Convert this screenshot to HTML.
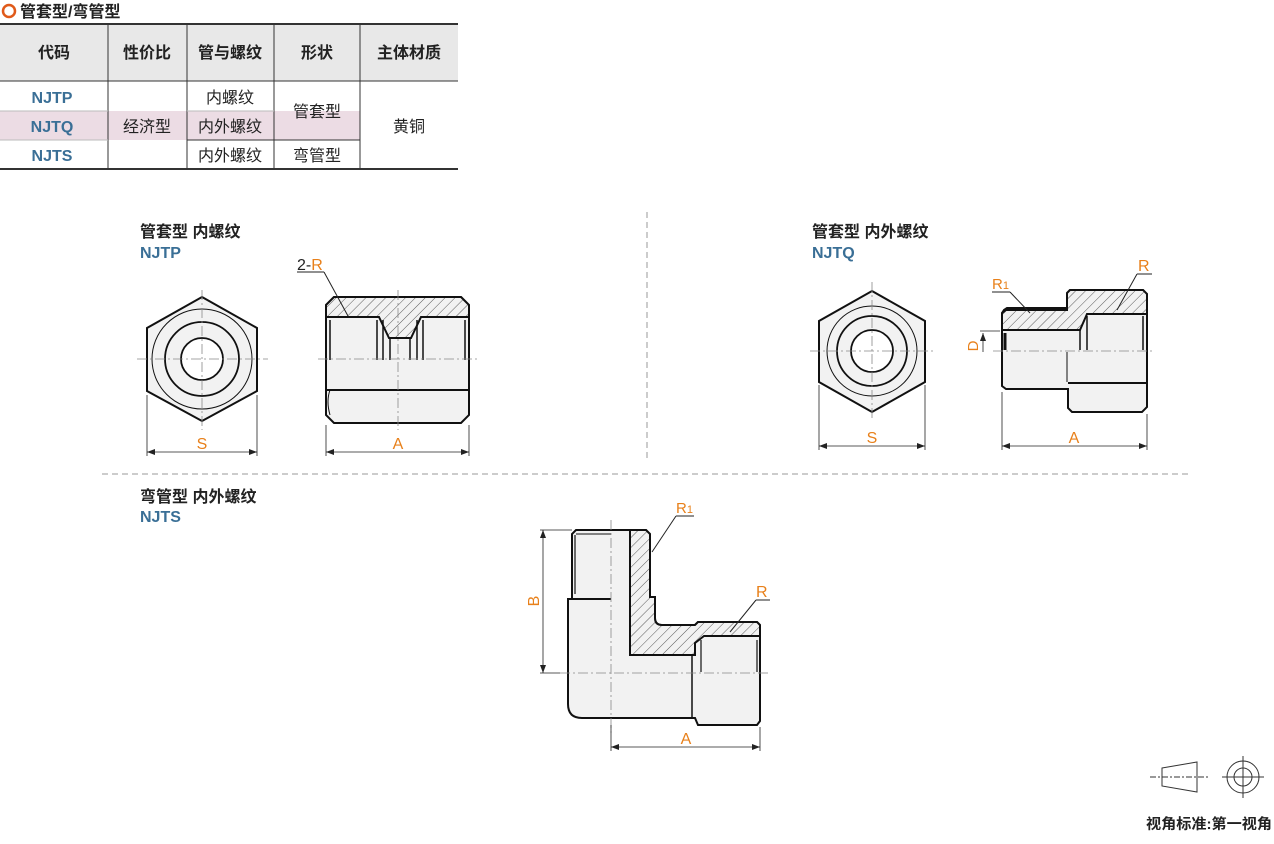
<!DOCTYPE html>
<html><head><meta charset="utf-8"><style>
body{margin:0;background:#fff;width:1274px;height:844px;overflow:hidden;position:relative;font-family:"Liberation Sans","Noto Sans CJK SC",sans-serif}
</style></head><body>
<svg width="1274" height="844" viewBox="0 0 1274 844" xmlns="http://www.w3.org/2000/svg" style="position:absolute;left:0;top:0">
<defs>
<pattern id="h" patternUnits="userSpaceOnUse" width="7" height="7" patternTransform="rotate(45)"><rect width="7" height="7" fill="#f2f2f2"/><line x1="0" y1="0" x2="0" y2="7" stroke="#333" stroke-width="0.8"/></pattern>
<marker id="ar" markerWidth="8" markerHeight="6" refX="8" refY="3" orient="auto-start-reverse" markerUnits="userSpaceOnUse"><path d="M0,0 L8,3 L0,6 Z" fill="#222"/></marker>
</defs>
<g font-family="Liberation Sans, Noto Sans CJK SC, sans-serif">
<circle cx="9" cy="11" r="6" fill="none" stroke="#e05a1a" stroke-width="2.5"/>
<text x="20" y="17" font-size="16" font-weight="bold" fill="#222">管套型/弯管型</text>
<rect x="0" y="24" width="458" height="57" fill="#e8e8e8"/>
<rect x="0" y="111" width="360" height="29" fill="#ecdce4"/>
<line x1="0" y1="24" x2="458" y2="24" stroke="#333" stroke-width="2"/>
<line x1="0" y1="81" x2="458" y2="81" stroke="#333" stroke-width="1"/>
<line x1="0" y1="169" x2="458" y2="169" stroke="#333" stroke-width="2"/>
<g stroke="#333" stroke-width="1">
<line x1="108" y1="24" x2="108" y2="169"/><line x1="187" y1="24" x2="187" y2="169"/>
<line x1="274" y1="24" x2="274" y2="169"/><line x1="360" y1="24" x2="360" y2="169"/>
<line x1="0" y1="111" x2="108" y2="111" stroke="#bbb"/><line x1="0" y1="140" x2="108" y2="140" stroke="#bbb"/>
<line x1="187" y1="111" x2="274" y2="111" stroke="#bbb"/><line x1="187" y1="140" x2="360" y2="140"/>
</g>
<g font-size="16" fill="#222" text-anchor="middle" font-weight="bold">
<text x="54" y="58">代码</text><text x="147" y="58">性价比</text><text x="230" y="58">管与螺纹</text><text x="317" y="58">形状</text><text x="409" y="58">主体材质</text>
</g>
<g font-size="16" fill="#3a6f96" text-anchor="middle" font-weight="bold">
<text x="52" y="103">NJTP</text><text x="52" y="132">NJTQ</text><text x="52" y="161">NJTS</text>
</g>
<g font-size="16" fill="#222" text-anchor="middle">
<text x="147" y="132">经济型</text><text x="230" y="103">内螺纹</text><text x="230" y="132">内外螺纹</text><text x="230" y="161">内外螺纹</text>
<text x="317" y="117">管套型</text><text x="317" y="161">弯管型</text><text x="409" y="132">黄铜</text>
</g>
<text x="140" y="237" font-size="16" font-weight="bold" fill="#222">管套型 内螺纹</text>
<text x="140" y="258" font-size="16" font-weight="bold" fill="#3a6f96">NJTP</text>
<text x="812" y="237" font-size="16" font-weight="bold" fill="#222">管套型 内外螺纹</text>
<text x="812" y="258" font-size="16" font-weight="bold" fill="#3a6f96">NJTQ</text>
<text x="140" y="502" font-size="16" font-weight="bold" fill="#222">弯管型 内外螺纹</text>
<text x="140" y="522" font-size="16" font-weight="bold" fill="#3a6f96">NJTS</text>
<line x1="647" y1="212" x2="647" y2="462" stroke="#999" stroke-dasharray="6,4"/>
<line x1="102" y1="474" x2="1190" y2="474" stroke="#999" stroke-dasharray="6,4"/>
<g stroke="#111" fill="#f2f2f2">
<polygon points="202,297 257,328 257,391 202,421 147,391 147,328" stroke-width="2"/>
<circle cx="202" cy="359" r="50" fill="none" stroke-width="1"/>
<circle cx="202" cy="359" r="37" stroke-width="1.8"/>
<circle cx="202" cy="359" r="21" fill="#fff" stroke-width="1.8"/>
</g>
<g stroke="#888" stroke-width="0.8" stroke-dasharray="10,3,2,3"><line x1="137" y1="359" x2="268" y2="359"/><line x1="202" y1="290" x2="202" y2="430"/></g>
<g stroke="#111" stroke-width="2">
<path d="M334,297 H461 L469,305 V415 L461,423 H334 L326,415 V305 Z" fill="#f2f2f2"/>
<path d="M326,305 L334,297 H461 L469,305 V317 H421 L411,338 H389 L379,317 H326 Z" fill="url(#h)"/>
<line x1="326" y1="390" x2="469" y2="390"/>
<path d="M330,390 Q326,401 330,415" fill="none" stroke-width="1"/>
</g>
<g stroke="#111" stroke-width="1.5"><line x1="330" y1="320" x2="330" y2="360"/><line x1="465" y1="320" x2="465" y2="360"/><line x1="377" y1="320" x2="377" y2="360"/><line x1="383" y1="320" x2="383" y2="360"/><line x1="417" y1="320" x2="417" y2="360"/><line x1="423" y1="320" x2="423" y2="360"/><line x1="390" y1="338" x2="390" y2="360"/><line x1="410" y1="338" x2="410" y2="360"/></g>
<line x1="318" y1="359" x2="478" y2="359" stroke="#888" stroke-width="0.8" stroke-dasharray="10,3,2,3"/>
<line x1="398" y1="290" x2="398" y2="430" stroke="#888" stroke-width="0.8" stroke-dasharray="10,3,2,3"/>
<line x1="297" y1="272" x2="324" y2="272" stroke="#222"/><line x1="324" y1="272" x2="348" y2="316" stroke="#222"/>
<text x="297" y="270" font-size="16" fill="#222">2-<tspan fill="#e8801a">R</tspan></text>
<g stroke="#222" stroke-width="0.8"><line x1="147" y1="395" x2="147" y2="456"/><line x1="257" y1="395" x2="257" y2="456"/><line x1="147" y1="452" x2="257" y2="452" marker-start="url(#ar)" marker-end="url(#ar)"/>
<line x1="326" y1="425" x2="326" y2="456"/><line x1="469" y1="425" x2="469" y2="456"/><line x1="326" y1="452" x2="469" y2="452" marker-start="url(#ar)" marker-end="url(#ar)"/></g>
<text x="202" y="449" font-size="16" fill="#e8801a" text-anchor="middle">S</text>
<text x="398" y="449" font-size="16" fill="#e8801a" text-anchor="middle">A</text>
<g stroke="#111" fill="#f2f2f2">
<polygon points="872,291 925,321 925,382 872,412 819,382 819,321" stroke-width="2"/>
<circle cx="872" cy="351" r="45" fill="none" stroke-width="1"/>
<circle cx="872" cy="351" r="35" stroke-width="1.8"/>
<circle cx="872" cy="351" r="21" fill="#fff" stroke-width="1.8"/>
</g>
<g stroke="#888" stroke-width="0.8" stroke-dasharray="10,3,2,3"><line x1="810" y1="351" x2="935" y2="351"/><line x1="872" y1="282" x2="872" y2="420"/></g>
<g stroke="#111" stroke-width="2">
<path d="M1004,310 L1007,308 H1067 V293 L1070,290 H1143 L1147,294 V407 L1142,412 H1072 L1068,408 V389 H1006 L1002,386 V313 Z" fill="#f2f2f2"/>
<path d="M1002,313 L1006,310 H1067 V293 L1070,290 H1143 L1147,294 V314 H1087 L1080,330 H1002 Z" fill="url(#h)"/>
<line x1="1068" y1="383" x2="1147" y2="383"/>
</g>
<g stroke="#111" stroke-width="1.5"><line x1="1005" y1="333" x2="1005" y2="350" stroke-width="3"/><line x1="1080" y1="330" x2="1080" y2="350"/><line x1="1087" y1="316" x2="1087" y2="350"/><line x1="1143" y1="316" x2="1143" y2="350"/><line x1="1067" y1="352" x2="1067" y2="382" stroke-width="1"/></g>
<line x1="993" y1="351" x2="1155" y2="351" stroke="#888" stroke-width="0.8" stroke-dasharray="10,3,2,3"/>
<line x1="992" y1="292" x2="1010" y2="292" stroke="#222"/><line x1="1010" y1="292" x2="1030" y2="313" stroke="#222"/>
<text x="992" y="289" font-size="15" fill="#e8801a">R<tspan font-size="11">1</tspan></text>
<line x1="1137" y1="274" x2="1152" y2="274" stroke="#222"/><line x1="1137" y1="274" x2="1117" y2="310" stroke="#222"/>
<text x="1138" y="271" font-size="16" fill="#e8801a">R</text>
<g stroke="#222" stroke-width="0.8"><line x1="980" y1="331" x2="1000" y2="331"/><line x1="983" y1="352" x2="983" y2="333" marker-end="url(#ar)"/></g>
<text x="978" y="346" font-size="15" fill="#e8801a" transform="rotate(-90 978 346)" text-anchor="middle">D</text>
<g stroke="#222" stroke-width="0.8"><line x1="819" y1="385" x2="819" y2="450"/><line x1="925" y1="385" x2="925" y2="450"/><line x1="819" y1="446" x2="925" y2="446" marker-start="url(#ar)" marker-end="url(#ar)"/>
<line x1="1002" y1="392" x2="1002" y2="450"/><line x1="1147" y1="414" x2="1147" y2="450"/><line x1="1002" y1="446" x2="1147" y2="446" marker-start="url(#ar)" marker-end="url(#ar)"/></g>
<text x="872" y="443" font-size="16" fill="#e8801a" text-anchor="middle">S</text>
<text x="1074" y="443" font-size="16" fill="#e8801a" text-anchor="middle">A</text>
<g stroke="#111" stroke-width="2">
<path d="M576,530 H646 L650,534 V597 H655 V618 Q655,625 662,625 H695 L698,622 H757 L760,625 V721 L757,725 H698 L695,718 H582 Q568,718 568,704 V599 H572 V534 Z" fill="#f2f2f2"/>
<path d="M630,530 H646 L650,534 V597 H655 V618 Q655,625 662,625 H695 L698,622 H757 L760,625 V636 H704 L695,643 V655 H630 Z" fill="url(#h)"/>
<line x1="572" y1="599" x2="611" y2="599"/>
</g>
<g stroke="#111" stroke-width="1.2"><line x1="575" y1="535" x2="575" y2="594"/><line x1="576" y1="534" x2="611" y2="534" stroke-width="1"/><line x1="701" y1="640" x2="701" y2="672"/><line x1="757" y1="640" x2="757" y2="672"/><line x1="692" y1="655" x2="692" y2="718" stroke-width="1.5"/></g>
<g stroke="#888" stroke-width="0.8" stroke-dasharray="10,3,2,3"><line x1="560" y1="673" x2="770" y2="673"/><line x1="611" y1="520" x2="611" y2="735"/></g>
<line x1="676" y1="516" x2="694" y2="516" stroke="#222"/><line x1="676" y1="516" x2="652" y2="552" stroke="#222"/>
<text x="676" y="513" font-size="15" fill="#e8801a">R<tspan font-size="11">1</tspan></text>
<line x1="756" y1="600" x2="770" y2="600" stroke="#222"/><line x1="756" y1="600" x2="730" y2="632" stroke="#222"/>
<text x="756" y="597" font-size="16" fill="#e8801a">R</text>
<g stroke="#222" stroke-width="0.8"><line x1="540" y1="530" x2="572" y2="530"/><line x1="540" y1="673" x2="560" y2="673"/><line x1="543" y1="530" x2="543" y2="673" marker-start="url(#ar)" marker-end="url(#ar)"/>
<line x1="611" y1="725" x2="611" y2="751"/><line x1="760" y1="727" x2="760" y2="751"/><line x1="611" y1="747" x2="760" y2="747" marker-start="url(#ar)" marker-end="url(#ar)"/></g>
<text x="539" y="601" font-size="16" fill="#e8801a" transform="rotate(-90 539 601)" text-anchor="middle">B</text>
<text x="686" y="744" font-size="16" fill="#e8801a" text-anchor="middle">A</text>
<g stroke="#333" stroke-width="1" fill="none">
<path d="M1162,768 L1197,762 V792 L1162,786 Z"/>
<line x1="1150" y1="777" x2="1210" y2="777" stroke-dasharray="6,2,2,2"/>
<circle cx="1243" cy="777" r="16"/><circle cx="1243" cy="777" r="9"/>
<line x1="1222" y1="777" x2="1264" y2="777"/><line x1="1243" y1="756" x2="1243" y2="798"/>
</g>
<text x="1146" y="829" font-size="14.5" font-weight="bold" fill="#222" textLength="126" lengthAdjust="spacingAndGlyphs">视角标准:第一视角</text>
</g>
</svg>
</body></html>
